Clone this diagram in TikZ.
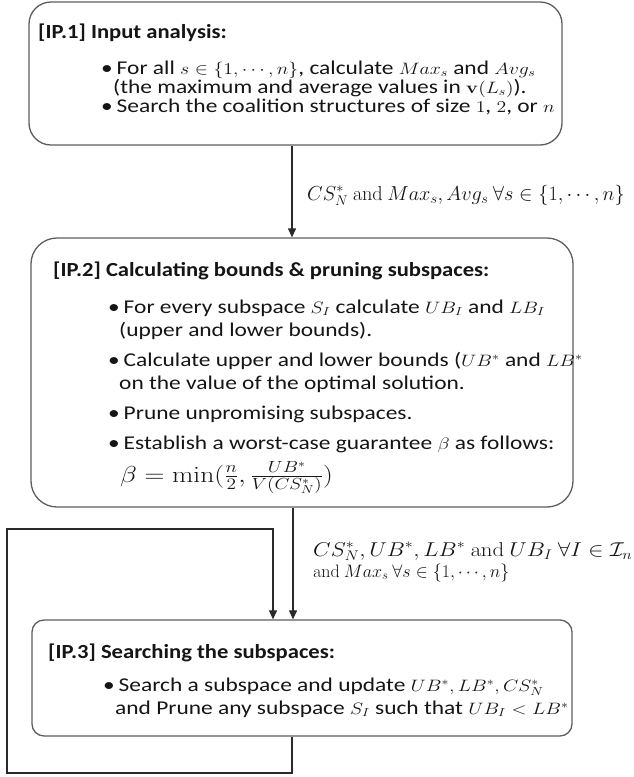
\documentclass[tikz,border=0pt]{standalone}
\usepackage{fix-cm}
\usepackage[no-math]{fontspec}
\usepackage{graphicx}
\setmainfont{Carlito}
\usetikzlibrary{arrows.meta}
\definecolor{boxgray}{HTML}{5E5E5E}
\definecolor{linegray}{HTML}{2A2A2A}
\definecolor{inkc}{HTML}{151515}
\newcommand\sx[1]{\scalebox{1.2}[1]{#1}}
\newcommand\st[1]{\scalebox{1.13}[1]{#1}}
\newcommand\mm[1]{{\fontsize{16.5}{19}\selectfont$#1$}}
\begin{document}
\begin{tikzpicture}[x=1pt,y=-1pt,
  box/.style={draw=boxgray, line width=1.3pt, rounded corners=#1, inner sep=0pt, fill=white},
  box/.default=20pt,
  txt/.style={anchor=base west, inner sep=0pt, text=inkc, font=\fontsize{19.5}{22}\selectfont},
  ttl/.style={txt, font=\fontsize{20}{23}\selectfont\bfseries},
  lbl/.style={anchor=base west, inner sep=0pt, text=inkc, font=\fontsize{20}{23}\selectfont},
  arr/.style={draw=linegray, line width=1.2pt, -{Triangle[length=9pt,width=8pt]}},
  lin/.style={draw=linegray, line width=1.2pt}]
\useasboundingbox[fill=white] (0,0) rectangle (634,777);

% boxes
\node[box=22pt, minimum width=533pt, minimum height=143pt] (b1) at (295.5,73.5) {};
\node[box=26pt, minimum width=542pt, minimum height=269pt] (b2) at (302,372.5) {};
\node[box=12pt, minimum width=540pt, minimum height=116pt] (b3) at (302,678) {};

% box 1 text
\node[ttl] (t1) at (38,38) {\st{[IP.1] Input analysis:}};
\node[txt] (t1a) at (101,74) {\sx{\textbullet\,For all \mm{s\in\{1,\cdots,n\}}, calculate \mm{Max_s} and \mm{Avg_s}}};
\node[txt] (t1b) at (113,93) {\sx{(the maximum and average values in \mm{\mathbf{v}(L_s)}).}};
\node[txt] (t1c) at (101,112) {\sx{\textbullet\,Search the coalition structures of size \mm{1}, \mm{2}, or \mm{n}}};

% box 2 text
\node[ttl] (t2) at (53,276) {\st{[IP.2] Calculating bounds \& pruning subspaces:}};
\node[txt] (t2a) at (108,313) {\sx{\textbullet\,For every subspace \mm{S_I} calculate \mm{UB_I} and \mm{LB_I}}};
\node[txt] (t2b) at (119,336) {\sx{(upper and lower bounds).}};
\node[txt] (t2c) at (108,366) {\sx{\textbullet\,Calculate upper and lower bounds (\mm{UB^*} and \mm{LB^*}}};
\node[txt] (t2d) at (119,389) {\sx{on the value of the optimal solution.}};
\node[txt] (t2e) at (108,419) {\sx{\textbullet\,Prune unpromising subspaces.}};
\node[txt] (t2f) at (108,449) {\sx{\textbullet\,Establish a worst-case guarantee \mm{\beta} as follows:}};
\node[txt, font=\fontsize{23}{26}\selectfont] (t2g) at (120,482) {\sx{$\beta=\min(\frac{n}{2},\frac{UB^*}{V(CS^*_N)})$}};

% box 3 text
\node[ttl] (t3) at (48,658) {\st{[IP.3] Searching the subspaces:}};
\node[txt] (t3a) at (103,691) {\sx{\textbullet\,Search a subspace and update \mm{UB^*,LB^*,CS^*_N}}};
\node[txt] (t3b) at (115,714) {\sx{and Prune any subspace \mm{S_I} such that \mm{UB_I<LB^*}}};

% connectors
\coordinate (x1) at (292,0);
\coordinate (x2) at (293,0);
\coordinate (l1) at (292,773);
\coordinate (l2) at (7,773);
\coordinate (l3) at (7,529);
\coordinate (l4) at (273,529);

\draw[arr] (b1.south -| x1) -- (b2.north -| x1);
\draw[arr] (b2.south -| x2) -- (b3.north -| x2);
\draw[arr] (b3.south -| l1) -- (l1) -- (l2) -- (l3) -- (l4) -- (b3.north -| l4);

% edge labels
\node[lbl, font=\fontsize{20.3}{24}\selectfont] (e1) at (307,200) {$CS^*_N\ \mathrm{and}\ Max_s, Avg_s\ \forall s\in\{1,\cdots,n\}$};
\node[lbl] (e2a) at (313,556) {\scalebox{1.14}[1]{$CS^*_N, UB^*, LB^*\ \mathrm{and}\ UB_I\ \forall I\in\mathcal{I}_n$}};
\node[lbl, font=\fontsize{18}{21}\selectfont] (e2b) at (313,577) {$\mathrm{and}\ Max_s\ \forall s\in\{1,\cdots,n\}$};
\end{tikzpicture}
\end{document}
